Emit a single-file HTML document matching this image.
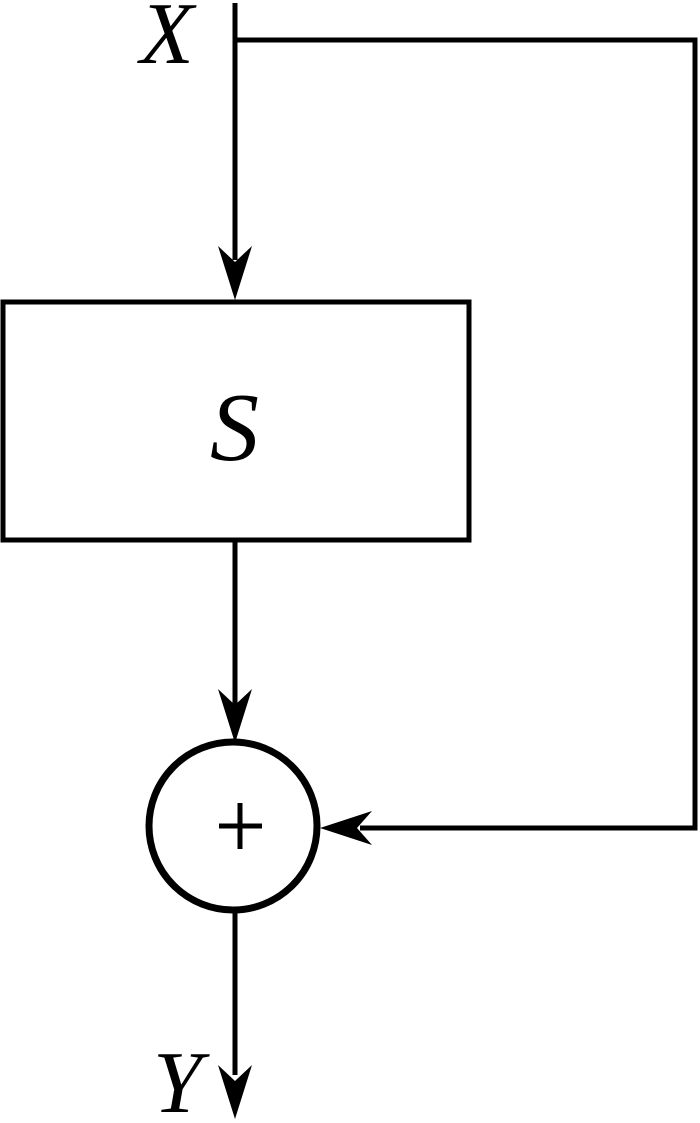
<!DOCTYPE html>
<html><head><style>html,body{margin:0;padding:0;background:#fff;}svg{display:block}</style></head>
<body>
<svg width="700" height="1123" viewBox="0 0 700 1123" xmlns="http://www.w3.org/2000/svg">
<g stroke="#000" stroke-width="5" fill="none">
<line x1="235" y1="3" x2="235" y2="260"/>
<polyline points="235,40 695,40 695,828 360,828"/>
<rect x="3" y="302" width="466" height="238"/>
<line x1="235" y1="540" x2="235" y2="705"/>
<line x1="235" y1="912" x2="235" y2="1075"/>
<circle cx="233" cy="826" r="84" stroke-width="7"/>
<line x1="219" y1="826" x2="262" y2="826" stroke-width="5"/>
<line x1="240" y1="803" x2="240" y2="849" stroke-width="5"/>
</g>
<g fill="#000">
<path d="M235,300 L218,246 L235,262 L252,246 Z"/>
<path d="M235,743 L218,689 L235,705 L252,689 Z"/>
<path d="M235,1119 L218,1065 L235,1081 L252,1065 Z"/>
<path d="M320,828 L372,811 L357,828 L372,845 Z"/>
</g>
<g font-family="'Liberation Serif',serif" font-style="italic" fill="#000">
<text x="140" y="63" font-size="88">X</text>
<text x="210" y="460" font-size="98">S</text>
<text x="153" y="1112" font-size="88">Y</text>
</g>
</svg>
</body></html>
